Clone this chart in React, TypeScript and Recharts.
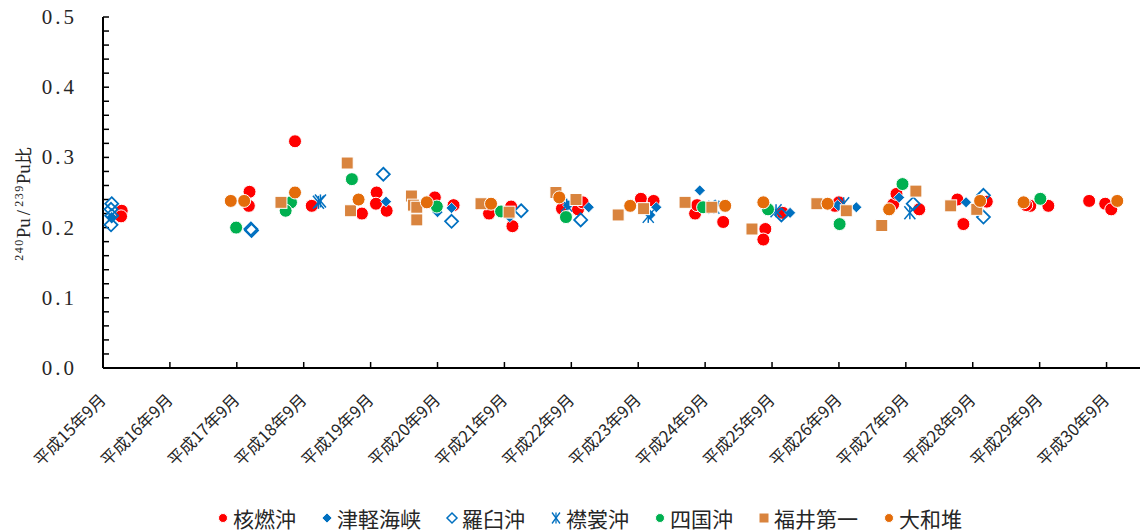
import React from 'react';
import { ScatterChart, Scatter, XAxis, YAxis } from 'recharts';

const CATEGORIES = [
  '平成15年9月', '平成16年9月', '平成17年9月', '平成18年9月', '平成19年9月', '平成20年9月',
  '平成21年9月', '平成22年9月', '平成23年9月', '平成24年9月', '平成25年9月', '平成26年9月',
  '平成27年9月', '平成28年9月', '平成29年9月', '平成30年9月',
];
const X_TICKS = [0, 1, 2, 3, 4, 5, 6, 7, 8, 9, 10, 11, 12, 13, 14, 15];
const Y_TICKS = [
  0, 0.02, 0.04, 0.06, 0.08, 0.1, 0.12, 0.14, 0.16, 0.18, 0.2, 0.22, 0.24, 0.26, 0.28,
  0.3, 0.32, 0.34, 0.36, 0.38, 0.4, 0.42, 0.44, 0.46, 0.48, 0.5,
];
const SERIES_NAMES = ['核燃沖', '津軽海峡', '羅臼沖', '襟裳沖', '四国沖', '福井第一', '大和堆'];

// 核燃沖
const KAKUNEN = [
  { x: 0.28, y: 0.224 }, { x: 0.27, y: 0.216 },
  { x: 2.19, y: 0.251 }, { x: 2.18, y: 0.231 },
  { x: 2.87, y: 0.323 }, { x: 3.12, y: 0.231 },
  { x: 4.09, y: 0.25 }, { x: 4.08, y: 0.234 }, { x: 3.87, y: 0.22 }, { x: 4.24, y: 0.224 },
  { x: 4.96, y: 0.243 }, { x: 5.24, y: 0.232 },
  { x: 5.77, y: 0.22 }, { x: 6.1, y: 0.23 }, { x: 6.12, y: 0.202 },
  { x: 6.86, y: 0.227 }, { x: 7.1, y: 0.226 }, { x: 7.17, y: 0.236 },
  { x: 8.04, y: 0.241 }, { x: 8.23, y: 0.238 },
  { x: 8.85, y: 0.22 }, { x: 9.27, y: 0.208 }, { x: 8.88, y: 0.232 },
  { x: 9.9, y: 0.198 }, { x: 9.87, y: 0.183 }, { x: 10.16, y: 0.221 },
  { x: 10.94, y: 0.231 }, { x: 11.0, y: 0.236 },
  { x: 11.81, y: 0.233 }, { x: 11.86, y: 0.248 }, { x: 12.2, y: 0.226 },
  { x: 12.77, y: 0.24 }, { x: 12.86, y: 0.205 }, { x: 13.21, y: 0.237 },
  { x: 13.86, y: 0.231 }, { x: 13.8, y: 0.232 }, { x: 14.13, y: 0.231 },
  { x: 14.74, y: 0.238 }, { x: 14.98, y: 0.234 }, { x: 15.07, y: 0.226 },
];
// 津軽海峡
const TSUGARU = [
  { x: 0.13, y: 0.215 },
  { x: 4.23, y: 0.237 },
  { x: 5.0, y: 0.222 }, { x: 5.21, y: 0.228 },
  { x: 6.08, y: 0.215 },
  { x: 7.26, y: 0.229 }, { x: 6.95, y: 0.232 },
  { x: 8.27, y: 0.229 }, { x: 8.18, y: 0.218 },
  { x: 8.92, y: 0.253 }, { x: 9.15, y: 0.233 },
  { x: 10.27, y: 0.221 },
  { x: 11.26, y: 0.229 }, { x: 10.98, y: 0.232 },
  { x: 11.9, y: 0.243 },
  { x: 12.9, y: 0.236 },
];
// 羅臼沖
const RAUSU = [
  { x: 0.13, y: 0.234 }, { x: 0.12, y: 0.226 }, { x: 0.13, y: 0.217 }, { x: 0.12, y: 0.204 },
  { x: 2.21, y: 0.198 }, { x: 2.22, y: 0.196 },
  { x: 4.19, y: 0.276 },
  { x: 5.21, y: 0.209 },
  { x: 6.25, y: 0.224 },
  { x: 7.14, y: 0.211 },
  { x: 10.14, y: 0.218 },
  { x: 12.11, y: 0.234 },
  { x: 13.16, y: 0.246 }, { x: 13.16, y: 0.215 },
];
// 襟裳沖
const ERIMO = [
  { x: 3.22, y: 0.236 }, { x: 3.25, y: 0.238 },
  { x: 6.93, y: 0.232 },
  { x: 8.15, y: 0.216 },
  { x: 9.13, y: 0.229 },
  { x: 10.06, y: 0.224 },
  { x: 11.07, y: 0.234 },
  { x: 12.06, y: 0.221 },
];
// 四国沖
const SHIKOKU = [
  { x: 1.99, y: 0.2 },
  { x: 2.81, y: 0.236 }, { x: 2.73, y: 0.224 },
  { x: 3.72, y: 0.269 },
  { x: 4.99, y: 0.23 },
  { x: 5.95, y: 0.223 },
  { x: 6.92, y: 0.215 },
  { x: 8.97, y: 0.229 },
  { x: 9.94, y: 0.226 },
  { x: 11.01, y: 0.205 },
  { x: 11.95, y: 0.262 },
  { x: 14.01, y: 0.241 },
];
// 福井第一
const FUKUI = [
  { x: 2.66, y: 0.236 },
  { x: 3.65, y: 0.292 }, { x: 3.7, y: 0.224 },
  { x: 4.61, y: 0.245 }, { x: 4.64, y: 0.232 }, { x: 4.69, y: 0.229 }, { x: 4.69, y: 0.211 },
  { x: 5.65, y: 0.234 }, { x: 6.07, y: 0.222 },
  { x: 6.77, y: 0.25 }, { x: 7.07, y: 0.24 },
  { x: 7.7, y: 0.218 }, { x: 8.08, y: 0.227 },
  { x: 8.7, y: 0.236 }, { x: 9.1, y: 0.229 },
  { x: 9.7, y: 0.198 },
  { x: 10.67, y: 0.234 }, { x: 11.11, y: 0.224 },
  { x: 11.64, y: 0.203 }, { x: 12.15, y: 0.252 },
  { x: 12.67, y: 0.231 }, { x: 13.06, y: 0.226 },
];
// 大和堆
const YAMATO = [
  { x: 1.91, y: 0.238 }, { x: 2.11, y: 0.238 },
  { x: 2.87, y: 0.25 },
  { x: 3.82, y: 0.24 },
  { x: 4.84, y: 0.236 },
  { x: 5.8, y: 0.234 },
  { x: 6.82, y: 0.243 },
  { x: 7.88, y: 0.231 },
  { x: 9.3, y: 0.231 },
  { x: 9.87, y: 0.236 },
  { x: 10.83, y: 0.234 },
  { x: 11.75, y: 0.226 },
  { x: 13.11, y: 0.238 },
  { x: 13.76, y: 0.236 },
  { x: 15.16, y: 0.238 },
];

const RED = '#FF0000';
const BLUE = '#0070C0';
const GREEN = '#00B050';
const TAN = '#D9843E';
const ORANGE = '#E36C0A';
const TEXT = '#262626';
const CJK = '"Noto Sans CJK JP", sans-serif';
const SERIF = '"Liberation Serif", "DejaVu Serif", serif';

type MP = { cx?: number; cy?: number };

const circleShape = (fill: string, r: number) => (p: MP) => (
  <circle cx={p.cx} cy={p.cy} r={r} fill={fill} stroke="#fff" strokeWidth={1} />
);
const diamondShape = (h: number) => (p: MP) => {
  const cx = p.cx as number, cy = p.cy as number;
  return (
    <polygon
      points={`${cx},${cy - h} ${cx + h},${cy} ${cx},${cy + h} ${cx - h},${cy}`}
      fill={BLUE}
      stroke="#fff"
      strokeWidth={0.75}
    />
  );
};
const openDiamondShape = (h: number, sw: number) => (p: MP) => {
  const cx = p.cx as number, cy = p.cy as number;
  return (
    <polygon
      points={`${cx},${cy - h} ${cx + h},${cy} ${cx},${cy + h} ${cx - h},${cy}`}
      fill="none"
      stroke={BLUE}
      strokeWidth={sw}
    />
  );
};
const asteriskShape = (w: number, h: number, sw: number) => (p: MP) => {
  const cx = p.cx as number, cy = p.cy as number;
  return (
    <g stroke={BLUE} strokeWidth={sw} fill="none">
      <line x1={cx - w} y1={cy - h} x2={cx + w} y2={cy + h} />
      <line x1={cx + w} y1={cy - h} x2={cx - w} y2={cy + h} />
      <line x1={cx} y1={cy - h} x2={cx} y2={cy + h} />
    </g>
  );
};
const squareShape = (s: number) => (p: MP) => (
  <rect
    x={(p.cx as number) - s / 2}
    y={(p.cy as number) - s / 2}
    width={s}
    height={s}
    fill={TAN}
    stroke="#fff"
    strokeWidth={1}
  />
);

const XTick = (props: any) => {
  const { x, y, payload } = props;
  const ax = x + 4;
  const ay = y + 39;
  return (
    <text
      x={ax}
      y={ay}
      transform={`rotate(-45 ${ax} ${ay})`}
      textAnchor="end"
      fontSize={16.5}
      fontFamily={CJK}
      fill={TEXT}
    >
      {CATEGORIES[payload.value]}
    </text>
  );
};

const YTick = (props: any) => {
  const { x, y, payload } = props;
  const v = payload.value as number;
  const major = Math.abs(v * 10 - Math.round(v * 10)) < 1e-6;
  if (!major) return <g />;
  return (
    <text
      x={x}
      y={y}
      dy={7}
      textAnchor="end"
      fontSize={21}
      letterSpacing={3}
      fontFamily={SERIF}
      fill={TEXT}
    >
      {v.toFixed(1)}
    </text>
  );
};

const LEGEND_SHAPES = [
  circleShape(RED, 4.5),
  diamondShape(5),
  openDiamondShape(5, 1.5),
  asteriskShape(4, 5.5, 1.3),
  circleShape(GREEN, 4.5),
  squareShape(10),
  circleShape(ORANGE, 4.5),
];

export default function App() {
  return (
    <div style={{ position: 'absolute', left: 0, top: 0, width: 1143, height: 532, background: '#fff' }}>
      <ScatterChart width={1143} height={532} margin={{ top: 17, right: 3, left: 0, bottom: 0 }}>
        <XAxis
          type="number"
          dataKey="x"
          domain={[0, 15.5]}
          ticks={X_TICKS}
          interval={0}
          height={164}
          axisLine={{ stroke: '#000', strokeWidth: 2 }}
          tickLine={{ stroke: '#000', strokeWidth: 1.5 }}
          tickSize={-6}
          tickMargin={0}
          tick={<XTick />}
        />
        <YAxis
          type="number"
          dataKey="y"
          domain={[0, 0.5]}
          ticks={Y_TICKS}
          interval={0}
          width={103}
          axisLine={{ stroke: '#000', strokeWidth: 2 }}
          tickLine={{ stroke: '#000', strokeWidth: 1.5 }}
          tickSize={-6}
          tickMargin={32}
          tick={<YTick />}
        />
        <Scatter name={SERIES_NAMES[0]} data={KAKUNEN} shape={circleShape(RED, 6.5)} isAnimationActive={false} />
        <Scatter name={SERIES_NAMES[1]} data={TSUGARU} shape={diamondShape(5.5)} isAnimationActive={false} />
        <Scatter name={SERIES_NAMES[2]} data={RAUSU} shape={openDiamondShape(6.5, 1.8)} isAnimationActive={false} />
        <Scatter name={SERIES_NAMES[3]} data={ERIMO} shape={asteriskShape(5.5, 6.5, 1.5)} isAnimationActive={false} />
        <Scatter name={SERIES_NAMES[4]} data={SHIKOKU} shape={circleShape(GREEN, 6.5)} isAnimationActive={false} />
        <Scatter name={SERIES_NAMES[5]} data={FUKUI} shape={squareShape(12)} isAnimationActive={false} />
        <Scatter name={SERIES_NAMES[6]} data={YAMATO} shape={circleShape(ORANGE, 6.5)} isAnimationActive={false} />
      </ScatterChart>

      <svg width={44} height={300} style={{ position: 'absolute', left: 0, top: 40 }}>
        <text
          transform="rotate(-90)"
          x={-164}
          y={30}
          textAnchor="middle"
          fontFamily={SERIF}
          fontSize={19}
          fill={TEXT}
        >
          <tspan fontSize={12} dy={-7} letterSpacing={1.5}>240</tspan>
          <tspan dy={7}>Pu</tspan>
          <tspan dx={3}>/</tspan>
          <tspan fontSize={12} dx={3} dy={-7} letterSpacing={1.5}>239</tspan>
          <tspan dy={7}>Pu</tspan>
          <tspan fontFamily={CJK} fontSize={17}>比</tspan>
        </text>
      </svg>

      <div
        style={{
          position: 'absolute',
          left: 216,
          top: 505,
          display: 'flex',
          alignItems: 'center',
          fontFamily: CJK,
          fontSize: 21,
          lineHeight: '26px',
          color: TEXT,
          whiteSpace: 'nowrap',
        }}
      >
        {SERIES_NAMES.map((name, i) => {
          const Shape = LEGEND_SHAPES[i];
          return (
            <div key={name} style={{ display: 'flex', alignItems: 'center', marginRight: i < 6 ? 24 : 0 }}>
              <svg width={14} height={14} style={{ marginRight: 3 }}>
                <Shape cx={7} cy={7} />
              </svg>
              <span>{name}</span>
            </div>
          );
        })}
      </div>
    </div>
  );
}
